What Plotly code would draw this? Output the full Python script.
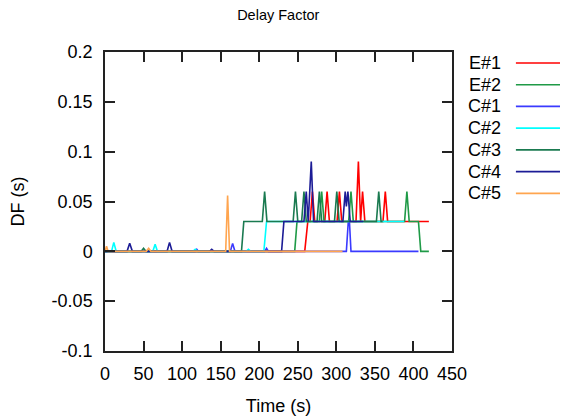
import plotly.graph_objects as go

# ---- data ----
names = ["E#1", "E#2", "C#1", "C#2", "C#3", "C#4", "C#5"]
colors = ["#ff0000", "#1f9a47", "#3a3aff", "#00ffff", "#1a7a50", "#1c1c96", "#ffa54f"]

e1_x = [0, 259, 263, 266, 269, 272, 285, 288, 291, 301, 304, 307, 325.5, 328.6, 331.5, 334, 337, 360.5, 363.5, 366.5, 420]
e1_y = [0, 0, 0.03, 0.03, 0.06, 0.03, 0.03, 0.06, 0.03, 0.03, 0.06, 0.03, 0.03, 0.09, 0.03, 0.06, 0.03, 0.03, 0.06, 0.03, 0.03]

e2_x = [0, 246, 249, 278, 281, 284, 316, 319, 322, 388.5, 391.5, 394.5, 406.5, 409.5, 420]
e2_y = [0, 0, 0.03, 0.03, 0.06, 0.03, 0.03, 0.06, 0.03, 0.03, 0.06, 0.03, 0.03, 0, 0]

c1_x = [0, 117, 119, 121, 162.5, 165.5, 168.5, 207, 209.5, 212, 313, 315.5, 317, 319, 406.5]
c1_y = [0, 0, 0.002, 0, 0, 0.008, 0, 0, 0.003, 0, 0, 0.03, 0.03, 0, 0]

c2_x = [0, 8.5, 11.4, 14.5, 62, 65, 68, 114, 117, 120, 183, 186, 189, 206, 209.5, 388]
c2_y = [0, 0, 0.009, 0, 0, 0.007, 0, 0, 0.002, 0, 0, 0.002, 0, 0, 0.03, 0.03]

c3_x = [0, 47, 50, 53, 177, 180, 204, 207, 210, 244, 247, 250, 255, 258, 261, 275, 278, 281, 297.6, 300.6, 303.6, 352, 355, 358, 360]
c3_y = [0, 0, 0.003, 0, 0, 0.03, 0.03, 0.06, 0.03, 0.03, 0.06, 0.03, 0.03, 0.06, 0.03, 0.03, 0.06, 0.03, 0.03, 0.06, 0.03, 0.03, 0.06, 0.03, 0.03]

c4_x = [0, 28.6, 32, 35.5, 80.5, 83.7, 87, 135.5, 138.4, 141.5, 225, 229, 232, 258, 261, 263.5, 267.5, 270.5, 308.5, 311.5, 313, 315, 318, 335]
c4_y = [0, 0, 0.008, 0, 0, 0.009, 0, 0, 0.002, 0, 0, 0, 0.03, 0.03, 0.06, 0.03, 0.09, 0.03, 0.03, 0.06, 0.045, 0.06, 0.03, 0.03]

c5_x = [0, 2, 4, 53.5, 56.6, 59.5, 156.5, 159, 161.5, 308]
c5_y = [0, 0.005, 0, 0, 0.003, 0, 0, 0.056, 0, 0]

xs = [e1_x, e2_x, c1_x, c2_x, c3_x, c4_x, c5_x]
ys = [e1_y, e2_y, c1_y, c2_y, c3_y, c4_y, c5_y]

x_ticks = [0, 50, 100, 150, 200, 250, 300, 350, 400, 450]
y_ticks = [-0.1, -0.05, 0, 0.05, 0.1, 0.15, 0.2]
y_tick_text = ["-0.1", "-0.05", "0", "0.05", "0.1", "0.15", "0.2"]

# ---- layout geometry (page has an 8px body margin, so the figure is 8px smaller) ----
OFF = 8
W, H = 568 - OFF, 418 - OFF
PL, PR, PT, PB = 104.5, 452, 51.5, 351.5   # plot frame in page pixels
ML, MR, MT, MB = PL - OFF, W - (PR - OFF), PT - OFF, H - (PB - OFF)
FONT = "Liberation Sans, Arial, sans-serif"

fig = go.Figure()
for nm, col, x, y in zip(names, colors, xs, ys):
    fig.add_trace(go.Scatter(x=x, y=y, mode="lines", name=nm,
                             line=dict(color=col, width=1.6), showlegend=False))

pw = W - ML - MR
ph = H - MT - MB
annotations = []
shapes = []
for i, (nm, col) in enumerate(zip(names, colors)):
    yc = 62.5 + i * 21.8 - OFF
    yp = 1 - (yc - MT) / ph
    annotations.append(dict(text=nm, xref="paper", yref="paper",
                            x=(503 - OFF - ML) / pw, y=yp, xanchor="right", yanchor="middle",
                            showarrow=False, font=dict(size=18, color="#000", family=FONT)))
    shapes.append(dict(type="line", xref="paper", yref="paper",
                       x0=(516 - OFF - ML) / pw, x1=(567 - OFF - ML) / pw, y0=yp, y1=yp,
                       line=dict(color=col, width=1.6)))

axis_common = dict(showline=True, mirror="ticks", linecolor="#222", linewidth=1.5,
                   ticks="inside", ticklen=10, tickwidth=1.5, tickcolor="#222",
                   showgrid=False, zeroline=False, automargin=False,
                   tickfont=dict(size=18, color="#000", family=FONT))

fig.update_layout(
    width=W, height=H,
    margin=dict(l=ML, r=MR, t=MT, b=MB, autoexpand=False),
    paper_bgcolor="white", plot_bgcolor="white",
    font=dict(family=FONT, color="#000"),
    title=dict(text="Delay Factor", x=(ML + pw / 2) / W, xanchor="center",
               y=1 - (15 - OFF) / H, yanchor="middle", font=dict(size=14.5, color="#000", family=FONT)),
    xaxis=dict(range=[0, 450], tickvals=x_ticks, ticktext=[str(v) for v in x_ticks],
               title=dict(text="Time (s)", font=dict(size=18, family=FONT), standoff=16),
               ticklabelstandoff=6, **axis_common),
    yaxis=dict(range=[-0.1, 0.2], tickvals=y_ticks, ticktext=y_tick_text,
               title=dict(text="DF (s)", font=dict(size=18, family=FONT), standoff=25),
               ticklabelstandoff=7, **axis_common),
    annotations=annotations, shapes=shapes,
)

fig.write_html("out.html")
